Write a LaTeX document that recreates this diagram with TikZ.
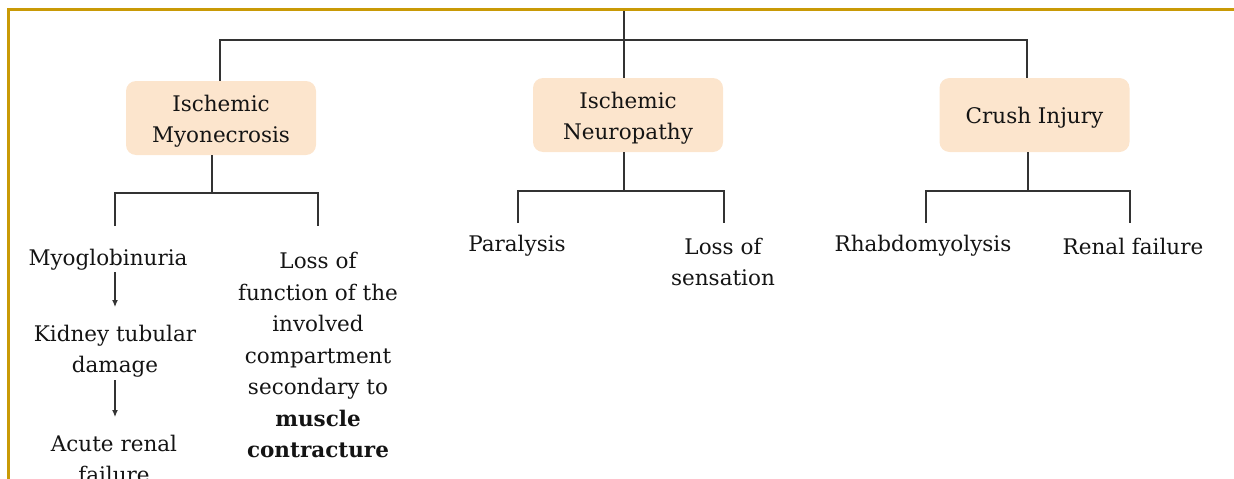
\documentclass[tikz,border=0pt]{standalone}
\usepackage{fontspec}
\setmainfont{DejaVu Serif}
\usetikzlibrary{arrows.meta}
\definecolor{gold}{HTML}{C99A06}
\definecolor{boxfill}{HTML}{FCE5CD}
\definecolor{ink}{HTML}{141414}
\definecolor{linec}{HTML}{333333}
\begin{document}
\begin{tikzpicture}[x=1pt,y=-1pt,
  every node/.style={text=ink},
  box/.style={fill=boxfill, rounded corners=10pt, minimum width=190pt, minimum height=74pt, inner sep=0pt},
  lbl/.style={align=center, font=\fontsize{21.5}{31.5}\selectfont, inner sep=0pt},
  ln/.style={draw=linec, line width=1.4pt},
  arr/.style={draw=linec, line width=1.2pt, -{Latex[length=7pt,width=6pt]}}
]
\useasboundingbox (0,0) rectangle (1234,479);
% border
\draw[gold, line width=3pt] (8.5,479) -- (8.5,9.5) -- (1234,9.5);

% boxes
\node[box] (b1) at (221,118) {};
\node[box] (b2) at (628,115) {};
\node[box] (b3) at (1034.5,115) {};
\node[lbl] (b1t) at (221,121) {Ischemic\\Myonecrosis};
\node[lbl] (b2t) at (628,118) {Ischemic\\Neuropathy};
\node[lbl] (b3t) at (1034.5,118) {Crush Injury};

% top connectors
\coordinate (t0) at (624,11);
\draw[ln] (t0) -- (t0 |- b2.north);
\coordinate (hl) at (220,40);
\coordinate (hr) at (1027,40);
\draw[ln] (hl |- b1.north) -- (hl) -- (hr) -- (hr |- b3.north);

% labels
\node[lbl] (myo) at (108,260) {Myoglobinuria};
\node[lbl] (kid) at (115,351) {Kidney tubular\\damage};
\node[lbl] (acu) at (114,459) {Acute renal\\failure};
\node[lbl] (lof) at (318,355) {Loss of\\function of the\\involved\\compartment\\secondary to\\\textbf{muscle}\\\textbf{contracture}};
\node[lbl] (par) at (517,246) {Paralysis};
\node[lbl] (los) at (723,262) {Loss of\\sensation};
\node[lbl] (rha) at (923,246) {Rhabdomyolysis};
\node[lbl] (ren) at (1133,246) {Renal failure};

% group 1
\coordinate (s1) at (212,193);
\coordinate (s1a) at (115,193);
\coordinate (s1b) at (318,193);
\coordinate (e1a) at (115,226);
\coordinate (e1b) at (318,226);
\draw[ln] (s1 |- b1.south) -- (s1);
\draw[ln] (e1a) -- (s1a) -- (s1b) -- (e1b);
\coordinate (a1s) at (115,272);
\coordinate (a1e) at (115,307);
\coordinate (a2s) at (115,380);
\coordinate (a2e) at (115,417);
\draw[arr] (a1s) -- (a1e);
\draw[arr] (a2s) -- (a2e);

% group 2
\coordinate (s2) at (624,191);
\coordinate (s2a) at (518,191);
\coordinate (s2b) at (724,191);
\coordinate (e2a) at (518,223);
\coordinate (e2b) at (724,223);
\draw[ln] (s2 |- b2.south) -- (s2);
\draw[ln] (e2a) -- (s2a) -- (s2b) -- (e2b);

% group 3
\coordinate (s3) at (1028,191);
\coordinate (s3a) at (926,191);
\coordinate (s3b) at (1130,191);
\coordinate (e3a) at (926,223);
\coordinate (e3b) at (1130,223);
\draw[ln] (s3 |- b3.south) -- (s3);
\draw[ln] (e3a) -- (s3a) -- (s3b) -- (e3b);
\end{tikzpicture}
\end{document}
